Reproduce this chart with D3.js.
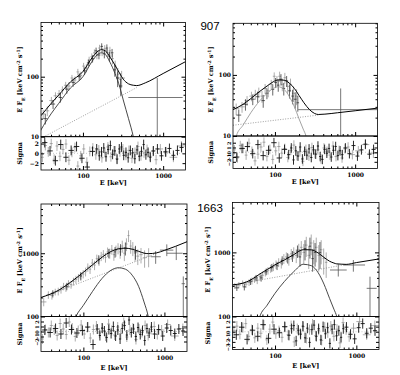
<!DOCTYPE html>
<html>
<head>
<meta charset="utf-8">
<script src="https://cdn.jsdelivr.net/npm/d3@7"></script>
<style>
body { margin: 0; background: #fff; }
text { font-family: "DejaVu Serif", serif; font-weight: bold; fill: #000; }
.num { font-family: "Liberation Sans", sans-serif; font-weight: normal; }
</style>
</head>
<body>
<div id="chart"></div>
<script>
// ---- shared axis values ----
const energyDomain = [30, 1900];
const xMajor = [100, 1000];
const xMinor = [40, 50, 60, 70, 80, 90, 200, 300, 400, 500, 600, 700, 800, 900];
const yMinorLow = [20, 30, 40, 50, 60, 70, 80, 90, 200, 300, 400, 500, 600, 700];
const yMinorHigh = [200, 300, 400, 500, 600, 700, 800, 900, 2000, 3000, 4000, 5000];
const burstLabels = ["907", "1663"];

// channel edges (keV) for the two detectors, used by the residuals
const chanGray = [30, 32.5, 35.5, 38.5, 42, 45.5, 49.5, 54, 59, 64, 70, 76, 83, 90, 98, 107, 117, 127, 139, 151,
  165, 180, 196, 214, 233, 254, 277, 302, 329, 359, 391, 427, 465, 507, 553, 603, 658, 717, 782, 853, 1000, 1200, 1500, 1900];
const chanBlack = [31, 36, 42, 49, 57, 66, 77, 90, 105, 122, 142, 155, 165, 176, 188, 200, 213, 227, 242, 258,
  275, 293, 312, 333, 355, 378, 403, 430, 458, 488, 520, 554, 590, 629, 670, 714, 800, 900, 1010, 1130, 1270, 1420, 1600, 1800];

// ---- burst 907, first spectrum (top left) ----
// points: [eLo, eHi, flux, err]
const tlPtsA = [[30,34,24,4],[34,38,27,5],[38,43,40,6],[43,48,48,7],[48,53,52,8],[53,58,60,9],[58,64,72,10],[64,70,70,11],
  [70,76,95,12],[76,83,88,13],[83,90,120,15],[90,98,105,16],[98,106,150,20],[106,115,140,22],[115,124,190,25],[124,134,215,30],
  [134,144,250,35],[144,155,230,35],[155,167,300,40],[167,180,260,40],[180,194,290,45],[194,209,250,40],[209,225,270,45],
  [225,243,200,40],[243,262,150,35],[262,283,110,30],[283,305,90,25],[275,335,95,30]];
const tlPtsB = [[32,36,20,4],[40,45,35,6],[50,55,45,8],[60,66,62,10],[72,79,80,12],[86,94,100,14],[100,110,125,18],
  [112,122,170,22],[126,138,200,28],[140,152,270,35],[152,165,230,35],[165,178,320,40],[178,192,240,38],[192,206,300,45],
  [206,222,220,40],[222,240,250,40],[240,260,130,30],[260,282,95,28],[282,310,70,22]];
// wide bins: [eLo, eHi, eMid, flux, fluxLo, fluxHi]
const tlWide = [[368,1750,845,45,1,95]];
const tlTotal = [[30,22.4],[40,35.6],[50,49.6],[70,82],[100,122],[130,207],[150,259],[170,282],[190,270],[217,213],
  [250,157],[290,111],[318,91],[370,76],[425,72],[468,71],[600,79],[1000,113],[1900,178]];
const tlComp = [[28,11],[30,13],[40,24],[50,36],[70,65],[100,100],[130,180],[150,230],[170,250],[190,235],[217,175],
  [250,115],[290,65],[318,41],[370,20],[425,10],[460,6]];
const tlPow = [[30,9.4],[468,65.9]];
const tlResGray = [-0.8,1.6,0.3,2.0,-1.2,1.5,-0.6,0.8,1.9,-1.4,0.2,1.2,-2.6,-0.5,0.9,-1.8,0.4,1.1,-0.3,0.7,
  -0.9,0.2,1.3,-0.7,0.5,-1.1,0.3,0.9,-0.4,0.6,-1.0,0.2,1.4,-0.5,0.1,0.8,-0.6,0.4,-1.3,0.9,0.3,-0.8,1.5];
const tlResBlack = [2.2,0.5,-1.5,1.8,-0.8,0.6,1.4,-1.0,-2.8,0.4,0.9,-0.5,0.3,1.1,-0.7,0.8,1.6,-0.2,0.5,-1.2,
  0.9,1.3,-0.4,0.2,-0.9,0.6,0.1,-1.1,0.7,-0.6,0.4,1.8,-0.3,0.2,-0.8,0.5,0.9,-0.5,0.3,1.0,-0.4,0.6,1.2];

// ---- burst 907, second spectrum (top right) ----
const trPtsA = [[30,36,28,6],[36,42,30,6],[42,48,38,7],[48,54,45,8],[54,60,48,9],[60,66,52,10],[66,72,45,10],
  [72,79,60,11],[79,86,55,12],[86,94,70,13],[94,102,95,15],[102,110,80,16],[110,119,95,18],[119,128,70,16],
  [128,138,90,18],[138,150,65,15],[150,163,70,17],[163,178,50,14],[178,195,45,13]];
const trPtsB = [[33,38,22,5],[40,46,33,7],[50,56,40,8],[58,64,44,9],[68,75,38,9],[76,83,50,10],[90,98,58,12],
  [98,106,75,14],[106,114,68,15],[114,124,85,18],[124,134,60,14],[134,146,80,16],[146,158,55,14],[160,172,45,12],
  [172,186,40,12],[186,200,35,10]];
const trWide = [[195,1900,660,27,1,60]];
const trTotal = [[30,27],[40,33],[50,41],[65,54],[80,66],[95,77],[110,83],[130,82],[150,74],[175,60],[200,46],
  [230,35],[270,27],[310,23.5],[347,22.5],[420,22.8],[600,24],[1000,25.9],[1900,28.6]];
const trComp = [[31,7],[33,10],[40,15],[50,24],[65,38],[80,50],[95,60],[110,64],[130,58],[150,45],[175,30],
  [200,19],[225,13],[244,10],[260,7]];
const trPow = [[30,15],[347,22]];
const trResGray = [0.5,-1.2,1.4,0.8,-0.6,1.9,0.2,-1.8,-0.4,1.1,2.1,-0.9,0.6,-1.5,0.3,1.2,-0.2,0.8,-1.1,0.4,
  1.5,-0.7,0.1,-1.9,0.6,-0.8,1.0,-0.3,0.5,-1.4,0.9,0.2,-0.6,1.3,-0.9,0.4,-1.2,0.7,1.1,-0.5,0.3,1.6,-0.2];
const trResBlack = [-1.0,0.8,1.2,-0.3,1.6,-0.7,0.4,2.0,-1.2,0.6,-0.5,0.9,-1.6,0.3,-0.8,1.1,-1.4,0.2,-0.6,0.7,
  -1.1,0.5,-0.4,1.3,-0.9,-1.5,0.6,-0.2,0.8,-1.0,0.4,1.2,-0.7,0.3,-0.5,0.9,-0.3,1.4,-0.8,0.5,1.7,-0.4,0.6];

// ---- burst 1663, first spectrum (bottom left) ----
const blPtsA = [[30,35,170,25],[35,39,220,30],[39,43,215,30],[43,47,245,30],[47,51,250,35],[51,55,265,35],
  [55,59,300,40],[59,63,285,40],[63,68,330,45],[68,73,320,45],[73,78,360,50],[78,84,385,55],[84,90,410,60],
  [90,96,430,65],[96,103,470,70],[103,110,510,80],[110,117,600,90],[117,125,560,90],[125,133,700,110],
  [133,142,650,110],[142,151,820,130],[151,161,760,130],[161,171,900,150],[171,182,960,160],[182,193,860,150],
  [193,205,1050,180],[205,218,1000,180],[218,231,1150,200],[231,245,950,190],[245,260,1100,220],[260,276,1200,240],
  [276,293,1050,230],[293,311,1300,280],[311,330,1000,250],[330,350,1400,320],[350,372,1900,400],[372,395,1300,320],
  [395,420,1200,300],[420,450,1000,260],[450,490,900,250],[490,540,950,260],[540,600,850,260],[600,680,900,300]];
const blPtsB = [[40,44,230,30],[60,65,300,40],[90,96,440,60],[150,160,800,130],[200,212,1000,170],
  [240,252,1050,200],[280,295,1150,240],[320,340,1200,280],[420,460,1050,260]];
const blWide = [[680,900,780,880,680,1080],[880,1290,1070,1120,900,1380],[1070,1680,1400,1000,780,1280],
  [1630,1790,1710,330,20,430]];
const blTotal = [[30,200],[50,262],[70,350],[100,500],[130,657],[170,865],[220,1068],[270,1173],[330,1204],
  [400,1157],[480,1073],[560,1004],[632,985],[800,1013],[1000,1109],[1900,1520]];
const blComp = [[70,60],[81,100],[100,150],[130,250],[170,400],[220,540],[270,590],[330,560],[400,450],
  [480,300],[560,170],[632,100],[680,60]];
const blPow = [[30,198],[800,993]];
const blResGray = [-1.5,0.4,-0.2,1.2,0.3,-0.8,1.6,0.5,-0.6,1.9,0.7,-1.0,0.2,1.3,-0.5,0.8,-1.3,0.4,1.1,-0.3,
  0.6,-0.9,1.5,0.2,-0.7,0.9,-0.4,1.8,-1.1,0.3,0.7,-1.6,0.5,-0.2,1.2,-0.8,0.4,1.0,-0.6,0.3,1.4,-0.9,0.6];
const blResBlack = [0.3,-0.2,0.6,-0.5,1.7,0.4,-0.3,0.2,0.9,-2.6,0.5,-0.8,0.7,0.1,-1.2,0.4,-0.4,1.0,-0.9,0.3,
  -1.5,0.6,1.2,-0.7,2.3,-0.2,0.5,-1.0,0.8,-0.6,0.2,-1.8,0.6,-0.3,0.9,-0.5,0.4,-0.9,0.7,0.2,-0.4,0.5,0.1];

// ---- burst 1663, second spectrum (bottom right) ----
const brPtsA = [[30,34,300,30],[34,38,310,35],[38,42,330,35],[42,46,320,40],[46,50,340,40],[50,54,360,45],
  [54,58,380,45],[58,63,370,50],[63,68,420,55],[68,73,440,60],[73,79,480,60],[79,85,520,70],[85,92,560,80],
  [92,99,600,90],[99,107,650,100],[107,115,700,110],[115,124,680,120],[124,133,800,140],[133,143,850,150],
  [143,153,780,160],[153,164,950,180],[164,176,1000,200],[176,189,900,220],[189,203,1100,260],[203,218,1200,300],
  [218,234,1000,350],[234,251,1300,450],[251,269,900,350],[269,289,1400,500],[289,310,1100,450],[310,333,1200,500],
  [333,357,900,400],[357,383,1100,450],[383,411,800,350],[411,441,700,300]];
const brPtsB = [[32,36,280,30],[40,44,290,35],[48,52,350,40],[56,61,400,45],[65,70,400,50],[75,81,500,60],
  [88,95,580,80],[102,110,620,90],[118,127,750,120],[138,148,820,150],[158,170,880,170],[182,196,1050,230],
  [196,210,850,250],[226,242,1150,400],[260,278,1250,450],[280,300,800,300],[300,322,1000,400],[345,370,1000,450]];
const brWide = [[474,762,600,531,420,650],[693,1280,919,636,500,760],[1340,1780,1472,275,20,418]];
const brTotal = [[30,312],[40,330],[50,370],[65,460],[80,540],[100,640],[130,760],[170,923],[223,1103],
  [280,1095],[340,977],[400,836],[470,727],[530,682],[574,662],[650,655],[750,650],[1000,693],[1900,790]];
const brComp = [[58,60],[65,100],[80,150],[100,230],[130,350],[170,500],[223,652],[280,620],[340,480],
  [400,320],[470,190],[530,130],[574,100],[610,70]];
const brPow = [[30,310],[700,638]];
const brResGray = [0.2,1.1,-0.5,0.8,1.6,-0.9,0.4,-1.2,0.7,-0.3,1.3,-1.6,0.5,1.9,-0.4,0.2,-1.1,0.9,-0.6,1.2,
  -2.0,0.6,-0.3,1.0,-1.3,0.4,1.5,-0.8,0.3,-1.7,0.9,-0.2,1.1,-0.9,0.5,-2.2,1.8,0.4,-1.0,0.7,2.0,-0.6,1.2];
const brResBlack = [-0.6,0.9,-1.5,0.3,-0.9,1.4,-1.3,0.5,-0.2,1.0,-0.7,0.6,1.2,-1.8,0.3,-0.5,1.1,-1.2,0.7,-2.1,
  0.4,1.3,-0.9,0.6,-1.6,1.0,-0.4,0.8,-2.3,0.5,1.4,-0.8,0.2,-1.1,0.6,0.9,-0.5,-1.4,0.8,1.6,-0.3,0.7,0.2];

// ---- layout ----
const panels = [
  { id: "tl", x0: 41, x1: 185.5, y0: 22.5, y1: 136.7, r1: 170, yDom: [10, 800], yMajor: [10, 100], yMinor: yMinorLow,
    rDom: [-3.4, 3.4], rTicks: [-2, 0, 2], rotRes: false, titleX: 19.5, xTitleDy: 15,
    ptsA: tlPtsA, ptsB: tlPtsB, wide: tlWide, total: tlTotal, comp: tlComp, pow: tlPow, compColor: "#333",
    resA: tlResGray, resB: tlResBlack },
  { id: "tr", x0: 233, x1: 377.5, y0: 23.3, y1: 136, r1: 168.5, yDom: [10, 700], yMajor: [10, 100], yMinor: yMinorLow,
    rDom: [-3.4, 3.4], rTicks: [-2, -1, 0, 1, 2], rotRes: true, titleX: 210.5, xTitleDy: 15,
    ptsA: trPtsA, ptsB: trPtsB, wide: trWide, total: trTotal, comp: trComp, pow: trPow, compColor: "#999",
    resA: trResGray, resB: trResBlack },
  { id: "bl", x0: 41, x1: 187, y0: 204, y1: 316.5, r1: 351.5, yDom: [100, 6000], yMajor: [100, 1000], yMinor: yMinorHigh,
    rDom: [-4, 3], rTicks: [-2, -1, 0, 1, 2], rotRes: true, titleX: 19.5, xTitleDy: 18,
    ptsA: blPtsA, ptsB: blPtsB, wide: blWide, total: blTotal, comp: blComp, pow: blPow, compColor: "#333",
    resA: blResGray, resB: blResBlack },
  { id: "br", x0: 232.5, x1: 379, y0: 202.5, y1: 316.5, r1: 349.5, yDom: [100, 6000], yMajor: [100, 1000], yMinor: yMinorHigh,
    rDom: [-3.5, 3], rTicks: [-3, -2, -1, 0, 1, 2], rotRes: true, titleX: 208, xTitleDy: 18,
    ptsA: brPtsA, ptsB: brPtsB, wide: brWide, total: brTotal, comp: brComp, pow: brPow, compColor: "#333",
    resA: brResGray, resB: brResBlack }
];

const svg = d3.select("#chart").append("svg")
  .attr("width", 400)
  .attr("height", 375);

const defs = svg.append("defs");

function drawPanel(p) {
  const x = d3.scaleLog().domain(energyDomain).range([p.x0, p.x1]);
  const y = d3.scaleLog().domain(p.yDom).range([p.y1, p.y0]);
  const r = d3.scaleLinear().domain(p.rDom).range([p.r1, p.y1]);
  const g = svg.append("g");

  defs.append("clipPath").attr("id", p.id + "-main").append("rect")
    .attr("x", p.x0).attr("y", p.y0).attr("width", p.x1 - p.x0).attr("height", p.y1 - p.y0);
  defs.append("clipPath").attr("id", p.id + "-res").append("rect")
    .attr("x", p.x0).attr("y", p.y1).attr("width", p.x1 - p.x0).attr("height", p.r1 - p.y1);

  const main = g.append("g").attr("clip-path", `url(#${p.id}-main)`);
  const res = g.append("g").attr("clip-path", `url(#${p.id}-res)`);
  const low = p.yDom[0] * 0.3;

  // data crosses
  function crosses(pts, color) {
    const c = main.append("g").attr("stroke", color).attr("stroke-width", 0.7);
    c.selectAll("line.h").data(pts).join("line").attr("class", "h")
      .attr("x1", d => x(d[0])).attr("x2", d => x(d[1]))
      .attr("y1", d => y(d[2])).attr("y2", d => y(d[2]));
    c.selectAll("line.v").data(pts).join("line").attr("class", "v")
      .attr("x1", d => x(Math.sqrt(d[0] * d[1]))).attr("x2", d => x(Math.sqrt(d[0] * d[1])))
      .attr("y1", d => y(Math.max(low, d[2] - d[3]))).attr("y2", d => y(d[2] + d[3]));
  }
  crosses(p.ptsA, "#8a8a8a");
  crosses(p.ptsB, "#222");

  const w = main.append("g").attr("stroke", "#555").attr("stroke-width", 0.8);
  w.selectAll("line.h").data(p.wide).join("line").attr("class", "h")
    .attr("x1", d => x(d[0])).attr("x2", d => x(d[1]))
    .attr("y1", d => y(d[3])).attr("y2", d => y(d[3]));
  w.selectAll("line.v").data(p.wide).join("line").attr("class", "v")
    .attr("x1", d => x(d[2])).attr("x2", d => x(d[2]))
    .attr("y1", d => y(d[4])).attr("y2", d => y(d[5]));

  // model curves
  const curve = d3.line().x(d => x(d[0])).y(d => y(d[1])).curve(d3.curveMonotoneX);
  const straight = d3.line().x(d => x(d[0])).y(d => y(d[1]));
  main.append("path").attr("d", straight(p.pow)).attr("fill", "none")
    .attr("stroke", "#888").attr("stroke-width", 0.8).attr("stroke-dasharray", "1,1.5");
  main.append("path").attr("d", curve(p.comp)).attr("fill", "none")
    .attr("stroke", p.compColor).attr("stroke-width", 0.9);
  main.append("path").attr("d", curve(p.total)).attr("fill", "none")
    .attr("stroke", "#000").attr("stroke-width", 1);

  // residuals
  res.append("line").attr("x1", p.x0).attr("x2", p.x1).attr("y1", r(0)).attr("y2", r(0))
    .attr("stroke", "#aaa").attr("stroke-width", 0.6).attr("stroke-dasharray", "1,2");
  function resid(edges, vals, color, sw) {
    const bins = d3.pairs(edges).map((e, i) => [e[0], e[1], vals[i]]).filter(d => d[2] !== undefined);
    const c = res.append("g").attr("stroke", color).attr("stroke-width", sw);
    c.selectAll("line.h").data(bins).join("line").attr("class", "h")
      .attr("x1", d => x(d[0])).attr("x2", d => x(d[1]))
      .attr("y1", d => r(d[2])).attr("y2", d => r(d[2]));
    c.selectAll("line.v").data(bins).join("line").attr("class", "v")
      .attr("x1", d => x(Math.sqrt(d[0] * d[1]))).attr("x2", d => x(Math.sqrt(d[0] * d[1])))
      .attr("y1", d => r(d[2] - 1)).attr("y2", d => r(d[2] + 1));
  }
  resid(chanGray, p.resA, "#8a8a8a", 0.7);
  resid(chanBlack, p.resB, "#111", 0.9);

  // frames
  g.append("rect").attr("x", p.x0).attr("y", p.y0).attr("width", p.x1 - p.x0).attr("height", p.y1 - p.y0)
    .attr("fill", "none").attr("stroke", "#000").attr("stroke-width", 0.8);
  g.append("rect").attr("x", p.x0).attr("y", p.y1).attr("width", p.x1 - p.x0).attr("height", p.r1 - p.y1)
    .attr("fill", "none").attr("stroke", "#000").attr("stroke-width", 0.8);

  const clean = s => {
    s.select(".domain").remove();
    s.attr("font-size", 6).attr("font-family", null).attr("fill", "#000");
    s.selectAll("text").attr("fill", "#000");
    s.selectAll("line").attr("stroke", "#000");
  };

  // x ticks (inward) on main top/bottom and residual bottom
  [[d3.axisTop, p.y0], [d3.axisBottom, p.y1]].forEach(([ax, yy]) => {
    g.append("g").attr("transform", `translate(0,${yy})`)
      .call(ax(x).tickValues(xMajor).tickSize(-4).tickFormat("")).call(clean);
    g.append("g").attr("transform", `translate(0,${yy})`)
      .call(ax(x).tickValues(xMinor).tickSize(-2).tickFormat("")).call(clean);
  });
  g.append("g").attr("transform", `translate(0,${p.r1})`)
    .call(d3.axisBottom(x).tickValues(xMinor).tickSize(-2).tickFormat("")).call(clean);
  g.append("g").attr("transform", `translate(0,${p.r1})`)
    .call(d3.axisBottom(x).tickValues(xMajor).tickSize(-4).tickPadding(4).tickFormat(d3.format("d"))).call(clean);

  // y ticks on main
  g.append("g").attr("transform", `translate(${p.x0},0)`)
    .call(d3.axisLeft(y).tickValues(p.yMajor).tickSize(-4).tickPadding(2).tickFormat(d3.format("d"))).call(clean);
  g.append("g").attr("transform", `translate(${p.x0},0)`)
    .call(d3.axisLeft(y).tickValues(p.yMinor).tickSize(-2).tickFormat("")).call(clean);
  g.append("g").attr("transform", `translate(${p.x1},0)`)
    .call(d3.axisRight(y).tickValues(p.yMajor).tickSize(-4).tickFormat("")).call(clean);
  g.append("g").attr("transform", `translate(${p.x1},0)`)
    .call(d3.axisRight(y).tickValues(p.yMinor).tickSize(-2).tickFormat("")).call(clean);

  // residual y ticks
  const ry = g.append("g").attr("transform", `translate(${p.x0},0)`)
    .call(d3.axisLeft(r).tickValues(p.rTicks).tickSize(-3).tickPadding(2).tickFormat(d3.format("d"))).call(clean);
  if (p.rotRes) {
    ry.selectAll("text").attr("x", null).attr("dy", null).attr("font-size", 5)
      .attr("text-anchor", "middle").attr("transform", "translate(-2.5,0) rotate(-90)");
  }
  g.append("g").attr("transform", `translate(${p.x1},0)`)
    .call(d3.axisRight(r).tickValues(p.rTicks).tickSize(-3).tickFormat("")).call(clean);

  // titles
  const yt = g.append("text")
    .attr("transform", `translate(${p.titleX},${(p.y0 + p.y1) / 2}) rotate(-90)`)
    .attr("text-anchor", "middle").attr("dy", "0.35em").attr("font-size", 6.5);
  yt.append("tspan").text("E F");
  yt.append("tspan").attr("baseline-shift", "sub").attr("font-size", 4.5).text("E");
  yt.append("tspan").text(" [keV cm");
  yt.append("tspan").attr("baseline-shift", "super").attr("font-size", 4.5).text("-2");
  yt.append("tspan").text(" s");
  yt.append("tspan").attr("baseline-shift", "super").attr("font-size", 4.5).text("-1");
  yt.append("tspan").text("]");

  g.append("text")
    .attr("transform", `translate(${p.titleX},${(p.y1 + p.r1) / 2}) rotate(-90)`)
    .attr("text-anchor", "middle").attr("dy", "0.35em").attr("font-size", 6.5)
    .text("Sigma");

  g.append("text")
    .attr("x", (p.x0 + p.x1) / 2).attr("y", p.r1 + p.xTitleDy)
    .attr("text-anchor", "middle").attr("font-size", 6.5)
    .text("E [keV]");
}

panels.forEach(drawPanel);

// burst numbers
svg.selectAll("text.burst").data(burstLabels).join("text")
  .attr("class", "burst num")
  .attr("x", 210)
  .attr("y", (d, i) => i === 0 ? 29.5 : 212)
  .attr("text-anchor", "middle")
  .attr("font-size", 11.5)
  .text(d => d);
</script>
</body>
</html>
